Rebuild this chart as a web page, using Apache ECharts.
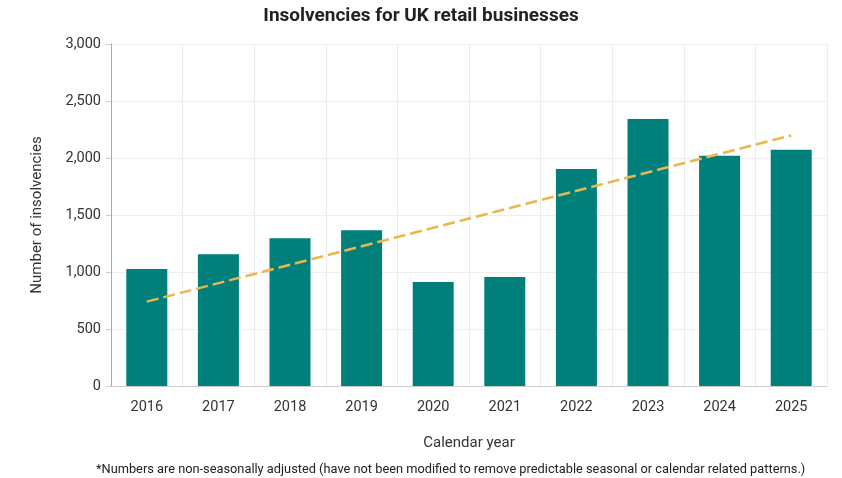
<!DOCTYPE html>
<html>
<head>
<meta charset="utf-8">
<script src="https://cdn.jsdelivr.net/npm/echarts@6/dist/echarts.min.js"></script>
<style>
html, body { margin: 0; padding: 0; background: #fff; }
#chart { width: 842px; height: 478px; }
</style>
</head>
<body>
<div id="chart"></div>
<script>
// data
var years = ['2016', '2017', '2018', '2019', '2020', '2021', '2022', '2023', '2024', '2025'];
var insolvencies = [1026, 1155, 1295, 1366, 912, 956, 1904, 2342, 2020, 2073];
var trendStart = 740;
var trendEnd = 2198;
var trendLine = [[years[0], trendStart], [years[years.length - 1], trendEnd]];

var font = 'Roboto';
var myChart = echarts.init(document.getElementById('chart'));

var option = {
    animation: false,
    backgroundColor: '#ffffff',
    title: [{
        text: 'Insolvencies for UK retail businesses',
        left: 'center',
        top: 7,
        padding: 0,
        textStyle: { fontFamily: font, fontSize: 19, fontWeight: 'bold', color: '#222' }
    }, {
        text: '*Numbers are non-seasonally adjusted (have not been modified to remove predictable seasonal or calendar related patterns.)',
        left: 96,
        top: 463,
        padding: 0,
        textStyle: { fontFamily: font, fontSize: 12.8, fontWeight: 'normal', color: '#222' }
    }],
    grid: { left: 111, right: 15, top: 44, bottom: 92 },
    xAxis: {
        type: 'category',
        data: years,
        name: 'Calendar year',
        nameLocation: 'middle',
        nameGap: 50,
        nameTextStyle: { fontFamily: font, fontSize: 15, color: '#333' },
        axisLine: { lineStyle: { color: '#ccc' } },
        axisTick: { alignWithLabel: true, length: 5, lineStyle: { color: '#bbb' } },
        axisLabel: { fontFamily: font, fontSize: 14.5, color: '#333', margin: 14 },
        splitLine: { show: true, lineStyle: { color: '#ececec' } }
    },
    yAxis: {
        type: 'value',
        min: 0,
        max: 3000,
        interval: 500,
        name: 'Number of insolvencies',
        nameLocation: 'middle',
        nameGap: 66,
        nameTextStyle: { fontFamily: font, fontSize: 15, color: '#333' },
        axisLine: { show: true, lineStyle: { color: '#aaa' } },
        axisTick: { show: true, length: 5, lineStyle: { color: '#ccc' } },
        axisLabel: {
            fontFamily: font, fontSize: 14.5, color: '#333', margin: 10,
            formatter: function (v) { return v.toLocaleString('en-GB'); }
        },
        splitLine: { lineStyle: { color: '#eeeeee' } }
    },
    series: [{
        name: 'Insolvencies',
        type: 'bar',
        data: insolvencies,
        barWidth: 41,
        itemStyle: { color: '#007f7b' }
    }, {
        name: 'Trend',
        type: 'line',
        data: trendLine,
        symbol: 'none',
        z: 5,
        lineStyle: { color: '#e8b84c', width: 2.5, type: [12, 5] }
    }]
};
myChart.setOption(option);
</script>
</body>
</html>
